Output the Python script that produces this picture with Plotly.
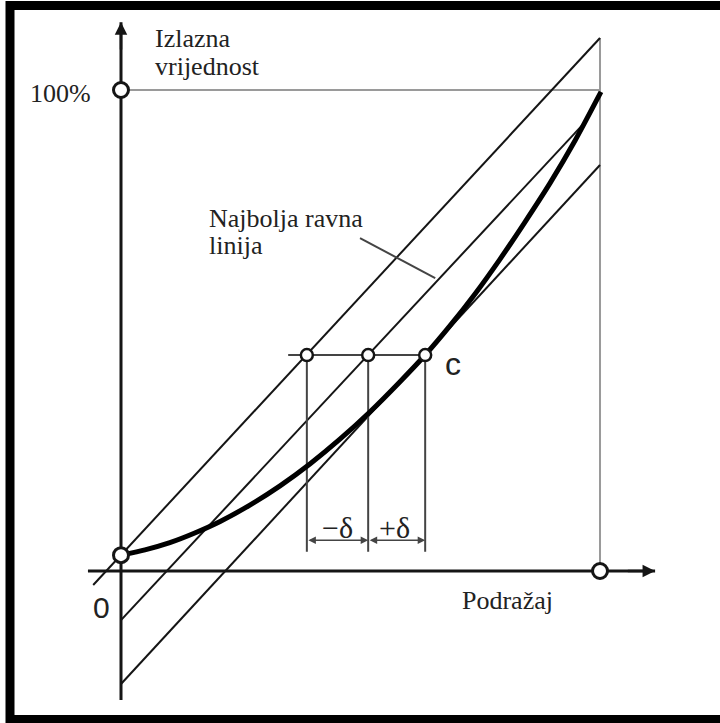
import plotly.graph_objects as go

# wartości w % pełnej skali: x = podražaj, y = izlazna vrijednost
curve_x = [0, 5.0, 10.2, 15.4, 20.7, 26.9, 33.2, 39.5, 45.7, 52.0, 58.2, 63.5,
           68.7, 73.9, 79.1, 84.3, 89.6, 94.8, 100.2]
curve_y = [3.3, 4.4, 5.9, 7.9, 10.3, 13.7, 17.7, 22.3, 27.4, 33.1, 39.3, 44.9,
           51.0, 57.6, 64.8, 72.5, 80.7, 89.5, 99.6]

upper_x = [-5.8, 100]
upper_y = [-2.9, 110.8]
middle_x = [0, 96.5]
middle_y = [-10.2, 92.9]
lower_x = [0, 100]
lower_y = [-23.5, 84.4]

full_scale = 100
c_level = 44.9
c_points_x = [38.8, 51.6, 63.5]
c_line_start = 34.9
ext_bottom = 4.0
dim_level = 6.4

x_axis_span = [-6.9, 111.5]
y_axis_span = [-26.8, 114.1]
right_guide_top = 110.8

pointer_x = [49.9, 65.6]
pointer_y = [69.2, 60.9]

BLACK = "#151515"
DARK = "#444444"
GREY = "#9a9a9a"
TEXT = "#222222"
SERIF = "Liberation Serif, Times New Roman, serif"
SANS = "Liberation Sans, Arial, sans-serif"


def seg(x, y, color, width):
    return go.Scatter(x=x, y=y, mode="lines", line=dict(color=color, width=width),
                      hoverinfo="skip", showlegend=False)


fig = go.Figure()

# pomoćne sive linije
fig.add_trace(seg([0, full_scale], [full_scale, full_scale], GREY, 2))
fig.add_trace(seg([full_scale, full_scale], [0, right_guide_top], GREY, 2))

# osi
fig.add_trace(seg(x_axis_span, [0, 0], BLACK, 3))
fig.add_trace(seg([0, 0], y_axis_span, BLACK, 3))

# paralelni pravci
fig.add_trace(seg(upper_x, upper_y, BLACK, 2))
fig.add_trace(seg(middle_x, middle_y, BLACK, 2))
fig.add_trace(seg(lower_x, lower_y, BLACK, 2))

# razina c i kotne linije
fig.add_trace(seg([c_line_start, c_points_x[-1]], [c_level, c_level], DARK, 2))
for xv in c_points_x:
    fig.add_trace(seg([xv, xv], [c_level, ext_bottom], DARK, 2))

# pokazivač "Najbolja ravna linija"
fig.add_trace(seg(pointer_x, pointer_y, DARK, 2))

# karakteristika
fig.add_trace(go.Scatter(x=curve_x, y=curve_y, mode="lines",
                         line=dict(color="black", width=5, shape="spline", smoothing=0.6),
                         hoverinfo="skip", showlegend=False))

# kružići
fig.add_trace(go.Scatter(x=[0, 0, full_scale], y=[full_scale, curve_y[0], 0], mode="markers",
                         marker=dict(size=15, color="white", line=dict(color=BLACK, width=3)),
                         hoverinfo="skip", showlegend=False))
fig.add_trace(go.Scatter(x=c_points_x, y=[c_level] * 3, mode="markers",
                         marker=dict(size=12, color="white", line=dict(color=BLACK, width=2.5)),
                         hoverinfo="skip", showlegend=False))

# strelice osi
for x0, y0, x1, y1 in [(0, y_axis_span[1] - 6, 0, y_axis_span[1]),
                       (x_axis_span[1] - 6, 0, x_axis_span[1], 0)]:
    fig.add_annotation(x=x1, y=y1, ax=x0, ay=y0, xref="x", yref="y", axref="x", ayref="y",
                       text="", showarrow=True, arrowhead=2, arrowsize=1, arrowwidth=2.5,
                       arrowcolor=BLACK)

# kotne strelice ±δ
for xa, xb in [(c_points_x[0], c_points_x[1]), (c_points_x[1], c_points_x[2])]:
    fig.add_annotation(x=xb, y=dim_level, ax=xa, ay=dim_level, xref="x", yref="y",
                       axref="x", ayref="y", text="", showarrow=True, arrowhead=2,
                       startarrowhead=2, arrowside="end+start", arrowsize=1,
                       startarrowsize=1, arrowwidth=1.5, arrowcolor=DARK)

labels = [
    ("Izlazna", 6.7, 110.8, "left", SERIF, 26),
    ("vrijednost", 6.7, 104.9, "left", SERIF, 26),
    ("100%", -5.8, 99.2, "right", SERIF, 26),
    ("Najbolja ravna", 18.0, 73.2, "left", SERIF, 26),
    ("linija", 18.0, 67.6, "left", SERIF, 26),
    ("Podražaj", 70.8, -6.2, "left", SERIF, 26),
    ("−δ", 45.1, 9.1, "center", SERIF, 30),
    ("+δ", 57.2, 9.1, "center", SERIF, 30),
    ("0", -4.0, -7.5, "center", SANS, 30),
    ("c", 69.3, 43.0, "center", SANS, 32),
]
for txt, xv, yv, anchor, fam, size in labels:
    fig.add_annotation(x=xv, y=yv, xref="x", yref="y", text=txt, showarrow=False,
                       xanchor=anchor, yanchor="middle",
                       font=dict(family=fam, size=size, color=TEXT))

# okvir slike
fig.add_shape(type="rect", xref="paper", yref="paper", x0=10 / 720, x1=1.02,
              y0=3.5 / 723, y1=1 - 5.5 / 723, line=dict(color="black", width=9))

fig.update_xaxes(range=[-25.26, 125.05], visible=False, showgrid=False, zeroline=False)
fig.update_yaxes(range=[-31.6, 118.71], visible=False, showgrid=False, zeroline=False)
fig.update_layout(width=720, height=723, margin=dict(l=0, r=0, t=0, b=0),
                  plot_bgcolor="white", paper_bgcolor="white", showlegend=False)

fig.write_html("out.html", config={"displayModeBar": False},
               post_script="document.body.style.margin='0px';")
